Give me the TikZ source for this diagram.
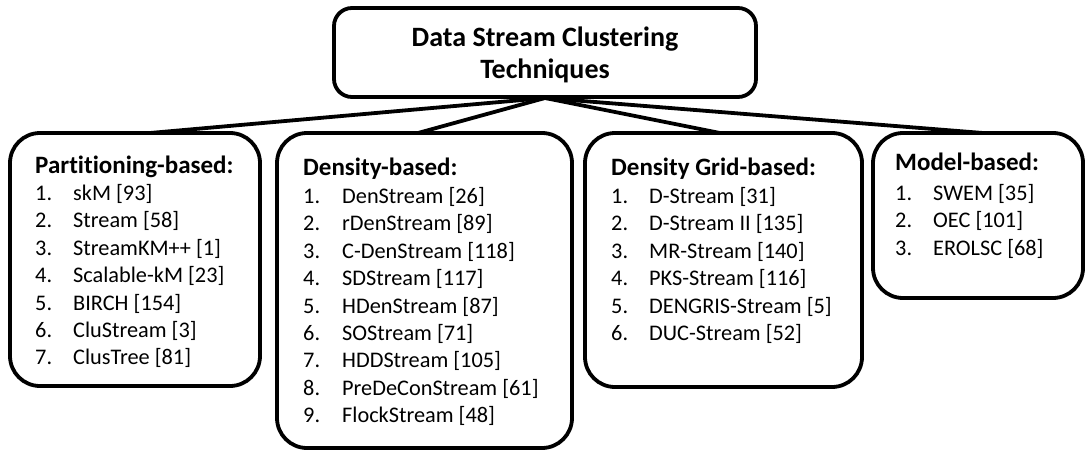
\documentclass[tikz,border=0pt]{standalone}
\usepackage{fontspec}
\setmainfont{Carlito}[Ligatures=NoCommon]
\usetikzlibrary{calc}
\newcommand{\headfont}{\bfseries\fontsize{25}{27.4}\selectfont}
\begin{document}
\begin{tikzpicture}[x=1pt,y=-1pt,
  frame/.style={draw=black, line width=3.8pt, rounded corners=30pt, fill=white, inner sep=0pt},
  link/.style={line width=3.8pt, line cap=round},
  listtext/.style={anchor=base west, inner sep=0pt, font=\fontsize{22.3}{27.4}\selectfont},
  titletext/.style={anchor=base, inner sep=0pt, font=\bfseries\fontsize{28}{32}\selectfont}]
\useasboundingbox (0,0) rectangle (1086,452);

% connectors from the root to each family
\coordinate (hub) at (545,98);
\coordinate (e1) at (150,133);
\coordinate (e2) at (418,133);
\coordinate (e3) at (720,133);
\coordinate (e4) at (983,133);
\foreach \e in {e1,e2,e3,e4} \draw[link] (hub) -- (\e);

% root box
\node[frame, rounded corners=18pt, minimum width=422pt, minimum height=89pt] (root) at (545,52.5) {};
\node[titletext] (rootA) at (545,47) {Data Stream Clustering};
\node[titletext] (rootB) at (545,78) {Techniques};

% family boxes
\node[frame, minimum width=250pt, minimum height=253pt] (b1) at (135,259.5) {};
\node[frame, minimum width=295pt, minimum height=315pt] (b2) at (424.5,290.5) {};
\node[frame, minimum width=277pt, minimum height=254pt] (b3) at (723.5,260) {};
\node[frame, minimum width=210pt, minimum height=165pt] (b4) at (978,215.5) {};

% family contents
\node[listtext] (t1) at (35,173) {\begin{tabular}[t]{@{}p{38pt}@{}l@{}}
\multicolumn{2}{@{}l@{}}{\headfont Partitioning-based:}\\[0pt]
1.& skM [93]\\
2.& Stream [58]\\
3.& StreamKM++ [1]\\
4.& Scalable-kM [23]\\
5.& BIRCH [154]\\
6.& CluStream [3]\\
7.& ClusTree [81]
\end{tabular}};

\node[listtext] (t2) at (303,175) {\begin{tabular}[t]{@{}p{39pt}@{}l@{}}
\multicolumn{2}{@{}l@{}}{\headfont Density-based:}\\[1pt]
1.& DenStream [26]\\
2.& rDenStream [89]\\
3.& C-DenStream [118]\\
4.& SDStream [117]\\
5.& HDenStream [87]\\
6.& SOStream [71]\\
7.& HDDStream [105]\\
8.& PreDeConStream [61]\\
9.& FlockStream [48]
\end{tabular}};

\node[listtext] (t3) at (611,175) {\begin{tabular}[t]{@{}p{38pt}@{}l@{}}
\multicolumn{2}{@{}l@{}}{\headfont Density Grid-based:}\\[1pt]
1.& D-Stream [31]\\
2.& D-Stream II [135]\\
3.& MR-Stream [140]\\
4.& PKS-Stream [116]\\
5.& DENGRIS-Stream [5]\\
6.& DUC-Stream [52]
\end{tabular}};

\node[listtext] (t4) at (895,170) {\begin{tabular}[t]{@{}p{38pt}@{}l@{}}
\multicolumn{2}{@{}l@{}}{\headfont Model-based:}\\[3pt]
1.& SWEM [35]\\
2.& OEC [101]\\
3.& EROLSC [68]
\end{tabular}};
\end{tikzpicture}
\end{document}
